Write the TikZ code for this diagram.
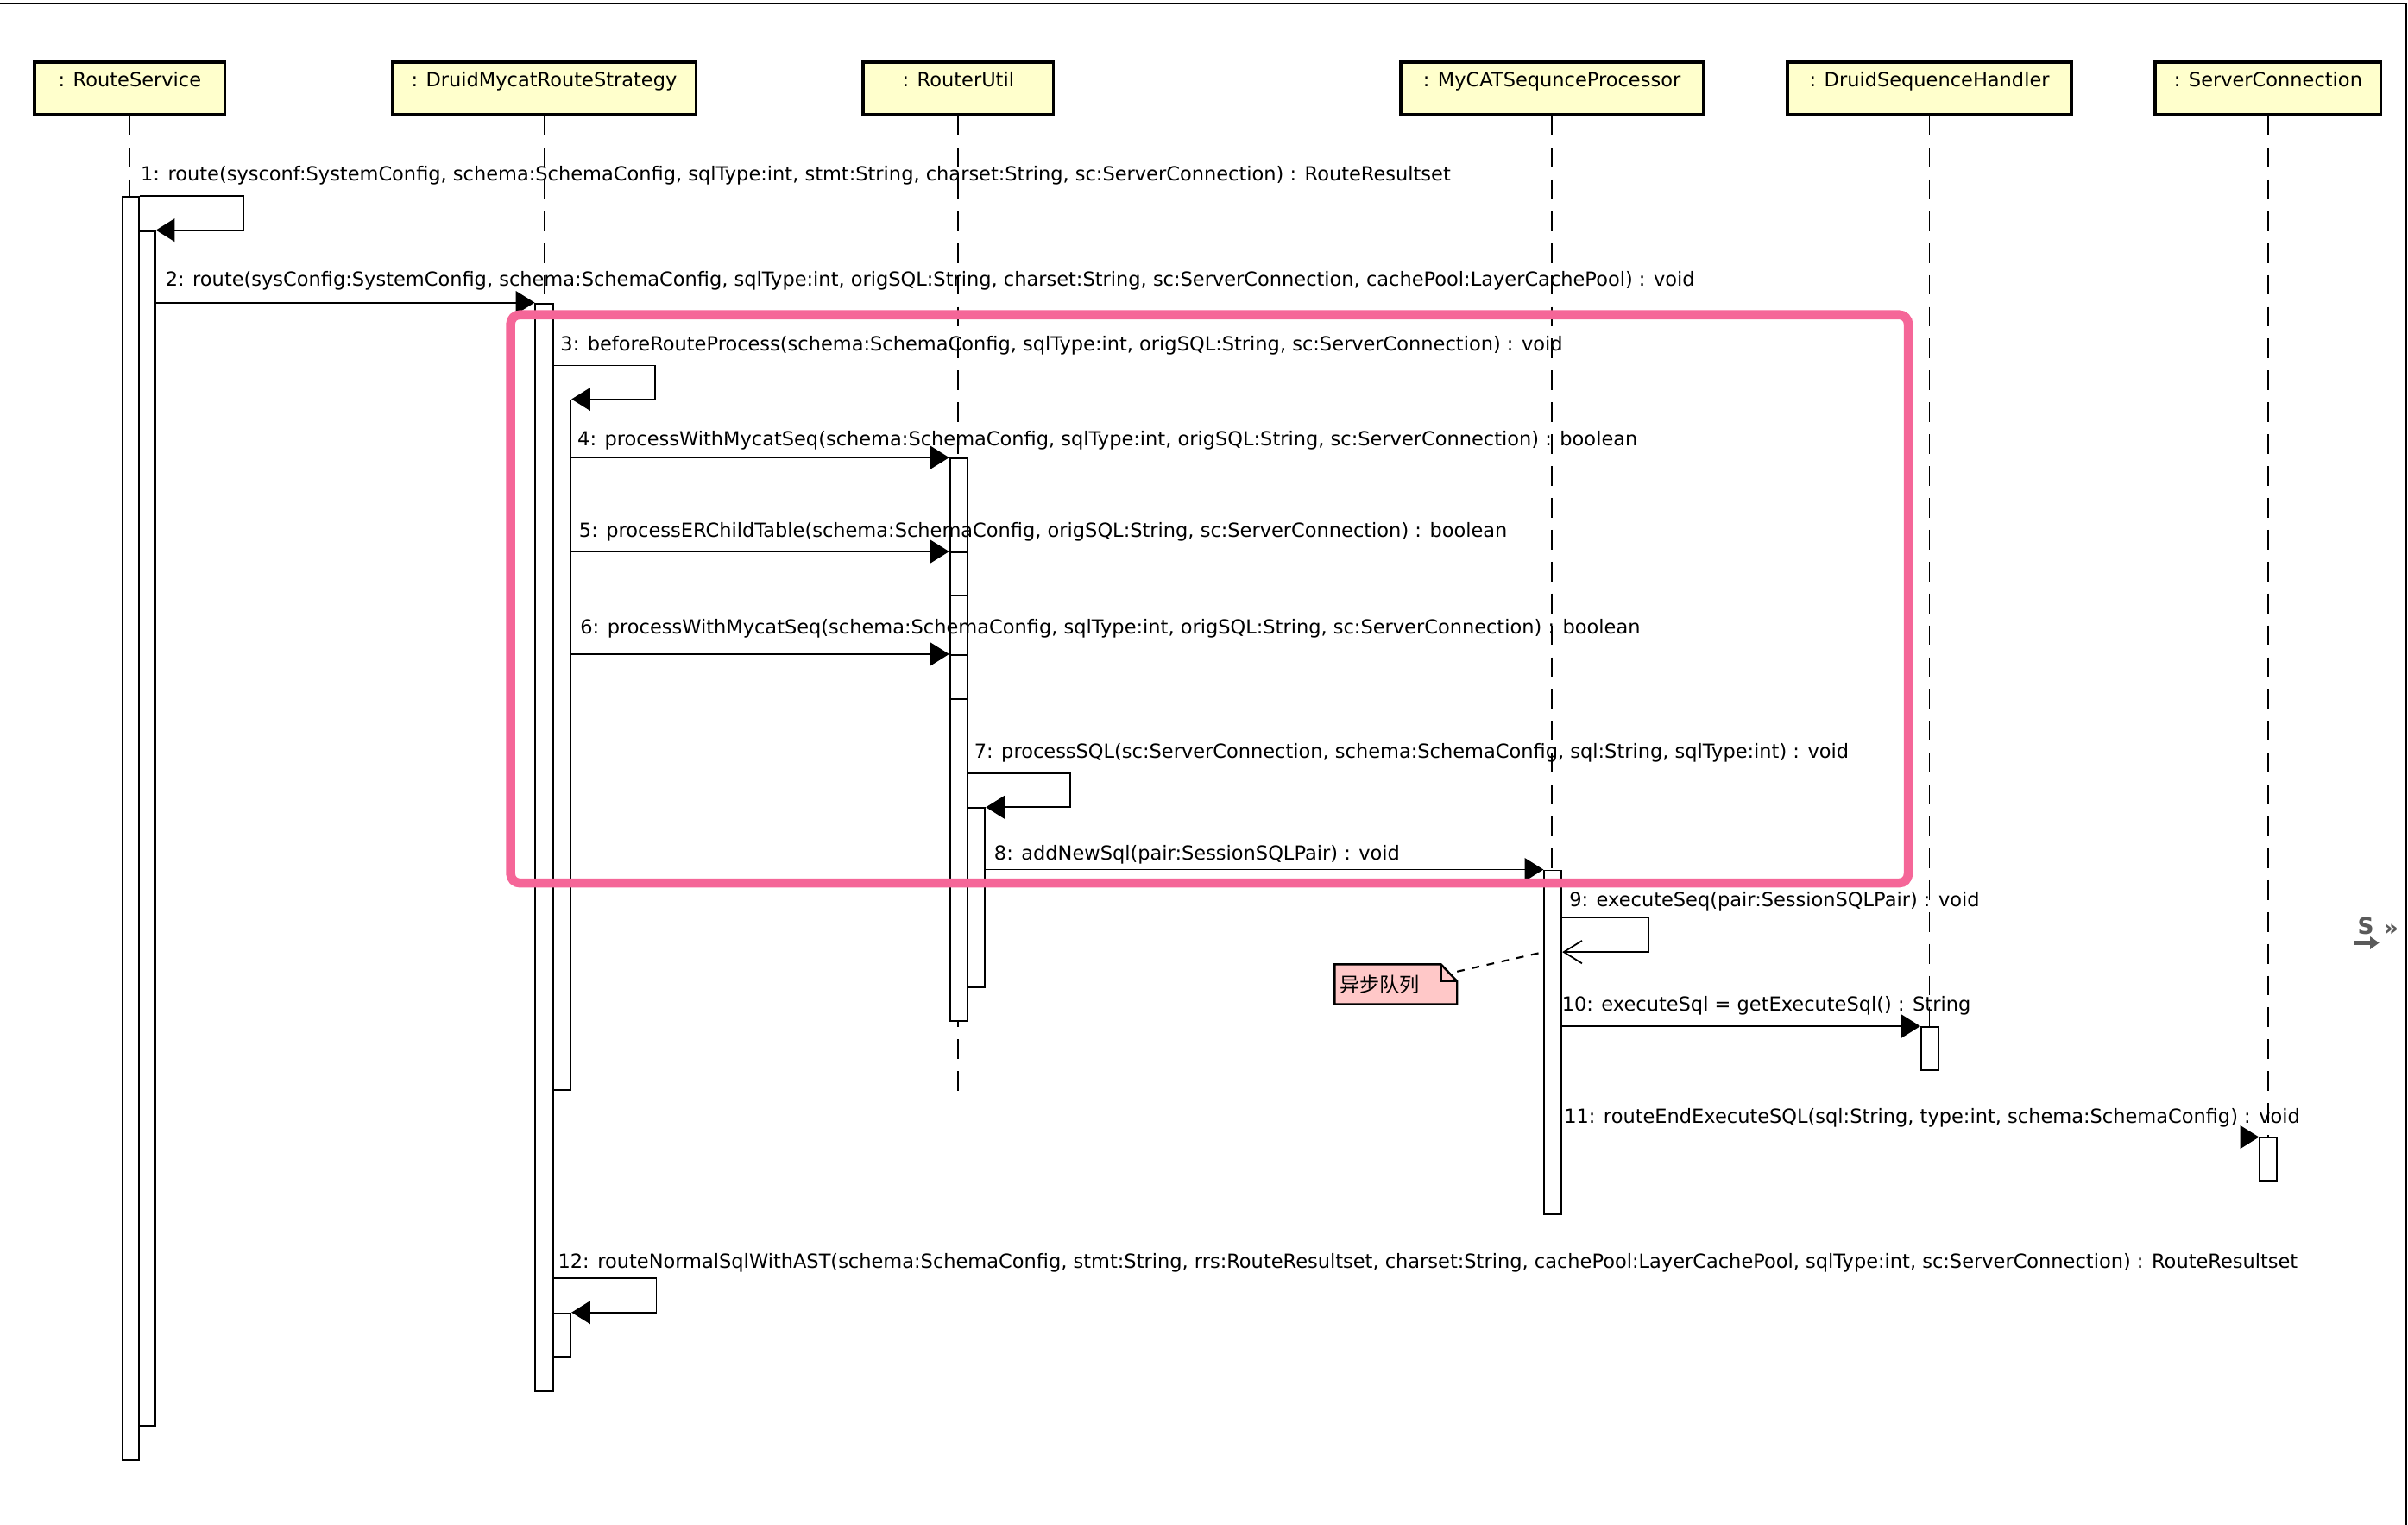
\documentclass[tikz,border=0pt]{standalone}
\usepackage{fontspec}
\setmainfont{DejaVu Sans}
\newfontfamily\cjk{Noto Sans CJK SC}
\usepackage{tikz}
\usetikzlibrary{arrows.meta, positioning, fit, backgrounds}
\definecolor{headfill}{RGB}{255,255,204}
\definecolor{notefill}{RGB}{255,200,200}
\definecolor{framepink}{RGB}{245,102,152}
\definecolor{navgray}{RGB}{90,90,90}
\newcommand{\pxlen}{0.17793mm}

\begin{document}
\begin{tikzpicture}[x=0.17793mm, y=-0.17793mm, font=\fontsize{6.4}{7.5}\selectfont,
    head/.style={draw, line width=1pt, fill=headfill, minimum height=34*\pxlen, minimum width=#1*\pxlen, inner sep=0pt, text height=4.8pt, text depth=6pt},
    lifeline/.style={dash pattern=on 6.5pt off 4pt, line width=0.5pt},
    actbar/.style={draw, fill=white, line width=0.55pt, inner sep=0pt},
    call/.style={line width=0.5pt, -{Triangle[length=6.2pt, width=7.6pt]}},
    async/.style={line width=0.5pt, -{Straight Barb[length=6pt, width=7.5pt]}},
    msg/.style={anchor=west, inner sep=0pt},
    memo/.style={anchor=west, align=left, text width=73*\pxlen, inner xsep=3*\pxlen, minimum height=25*\pxlen, font=\cjk\fontsize{6.6}{7}\selectfont},
    memolink/.style={dash pattern=on 2.5pt off 2.5pt, line width=0.6pt},
    focus/.style={draw=framepink, line width=3pt, rounded corners=3pt},
    nav/.style={inner sep=0pt, text=navgray, font=\bfseries\fontsize{7.5}{8}\selectfont}]
    \useasboundingbox (0,0) rectangle (1568,993);
    \draw [line width=0.8pt] (0,2.25) -- (1566.8,2.25) -- (1566.8,993);

    % heads
    \node (rs) [head=124] at (84.5,57.4) {: RouteService};
    \node (strat) [head=198] at (354.3,57.4) {: DruidMycatRouteStrategy};
    \node (util) [head=124] at (624,57.4) {: RouterUtil};
    \node (seqproc) [head=197] at (1010.5,57.4) {: MyCATSequnceProcessor};
    \node (seqhandler) [head=185] at (1256.4,57.4) {: DruidSequenceHandler};
    \node (conn) [head=147] at (1476.9,57.4) {: ServerConnection};

    \draw [lifeline] (rs) -- ++(0,893);
    \draw [lifeline] (strat) -- ++(0,845);
    \draw [lifeline] (util) -- ++(0,655);
    \draw [lifeline] (seqproc) -- ++(0,733);
    \draw [lifeline] (seqhandler) -- ++(0,640);
    \draw [lifeline] (conn) -- ++(0,711);

    % activations
    \node (rsout) [actbar, fit={(80,128.3) (90.6,950.8)}] {};
    \node (rsin) [actbar, fit={(90.6,150.4) (101,928.3)}] {};
    \node (stout) [actbar, fit={(348.7,197.6) (360.2,905.8)}] {};
    \node (stin) [actbar, fit={(360.2,260.5) (371.6,710)}] {};
    \node (stin2) [actbar, fit={(360.2,855.2) (371.6,883.3)}] {};
    \node (utout) [actbar, fit={(618.6,298.5) (630,665)}] {};
    \node (utb5) [actbar, fit={(618.6,359.7) (630,387.8)}] {};
    \node (utb6) [actbar, fit={(618.6,426.5) (630,455.2)}] {};
    \node (utin) [actbar, fit={(630,526.2) (641.4,643)}] {};
    \node (sqbar) [actbar, fit={(1005.6,566.8) (1016.8,791)}] {};
    \node (hdbar) [actbar, fit={(1251,668.8) (1262,697)}] {};
    \node (cnbar) [actbar, fit={(1471.5,741) (1482.6,768.7)}] {};

    % messages
    \node (m1) [msg] at (91.3,114.3) {1: route(sysconf:SystemConfig, schema:SchemaConfig, sqlType:int, stmt:String, charset:String, sc:ServerConnection) : RouteResultset};
    \draw [call] (rsout.north east) -- ++(67.5,0) |- (rsin.north east);
    \node (m2) [msg] at (107.4,182.7) {2: route(sysConfig:SystemConfig, schema:SchemaConfig, sqlType:int, origSQL:String, charset:String, sc:ServerConnection, cachePool:LayerCachePool) : void};
    \draw [call] (rsin.east |- stout.north) -- (stout.north west);
    \node (m3) [msg] at (364.6,224.9) {3: beforeRouteProcess(schema:SchemaConfig, sqlType:int, origSQL:String, sc:ServerConnection) : void};
    \draw [call] (stin.north west) ++(0,-22) -- ++(66.8,0) |- (stin.north east);
    \node (m4) [msg] at (375.7,286.8) {4: processWithMycatSeq(schema:SchemaConfig, sqlType:int, origSQL:String, sc:ServerConnection) : boolean};
    \draw [call] (stin.east |- utout.north) -- (utout.north west);
    \node (m5) [msg] at (376.7,346.5) {5: processERChildTable(schema:SchemaConfig, origSQL:String, sc:ServerConnection) : boolean};
    \draw [call] (stin.east |- utb5.north) -- (utb5.north west);
    \node (m6) [msg] at (377.5,409.3) {6: processWithMycatSeq(schema:SchemaConfig, sqlType:int, origSQL:String, sc:ServerConnection) : boolean};
    \draw [call] (stin.east |- utb6.north) -- (utb6.north west);
    \node (m7) [msg] at (634,490.3) {7: processSQL(sc:ServerConnection, schema:SchemaConfig, sql:String, sqlType:int) : void};
    \draw [call] (utin.north west) ++(0,-22.3) -- ++(67.3,0) |- (utin.north east);
    \node (m8) [msg] at (647,556.3) {8: addNewSql(pair:SessionSQLPair) : void};
    \draw [call] (utin.east |- sqbar.north) -- (sqbar.north west);
    \node (m9) [msg] at (1021.5,587) {9: executeSeq(pair:SessionSQLPair) : void};
    \draw [async] (sqbar.north east) ++(0,31.2) -- ++(56.2,0) |- ++(-56.2,22.5) coordinate (q9);
    \node (m10) [msg] at (1016.7,654.7) {10: executeSql = getExecuteSql() : String};
    \draw [call] (sqbar.east |- hdbar.north) -- (hdbar.north west);
    \node (m11) [msg] at (1018.1,727.8) {11: routeEndExecuteSQL(sql:String, type:int, schema:SchemaConfig) : void};
    \draw [call] (sqbar.east |- cnbar.north) -- (cnbar.north west);
    \node (m12) [msg] at (363,822.4) {12: routeNormalSqlWithAST(schema:SchemaConfig, stmt:String, rrs:RouteResultset, charset:String, cachePool:LayerCachePool, sqlType:int, sc:ServerConnection) : RouteResultset};
    \draw [call] (stin2.north west) ++(0,-22.2) -- ++(67.8,0) |- (stin2.north east);

    % note
    \node (note) [memo] at (869,641) {异步队列};
    \begin{scope}[on background layer]
        \draw [line width=0.7pt, fill=notefill] (note.south west) -- (note.north west) -- ([xshift=-10.5*\pxlen]note.north east) -- ([yshift=-11*\pxlen]note.north east) -- (note.south east) -- cycle;
    \end{scope}
    \draw [line width=0.7pt] ([xshift=-10.5*\pxlen]note.north east) |- ([yshift=-11*\pxlen]note.north east);
    \draw [memolink] (note.north east) ++(0,4.7) -- (sqbar.west |- q9);

    \draw [focus] (332.5,205) rectangle (1242.6,575);

    \node (navs) [nav] at (1540.5,603) {S};
    \node (navq) [nav] at (1557,605.5) {»};
    \draw [navgray, line width=1.2pt, -{Triangle[length=3pt, width=4pt]}] (navs.south west) ++(-1.5,5) -- ++(16,0);
\end{tikzpicture}
\end{document}
